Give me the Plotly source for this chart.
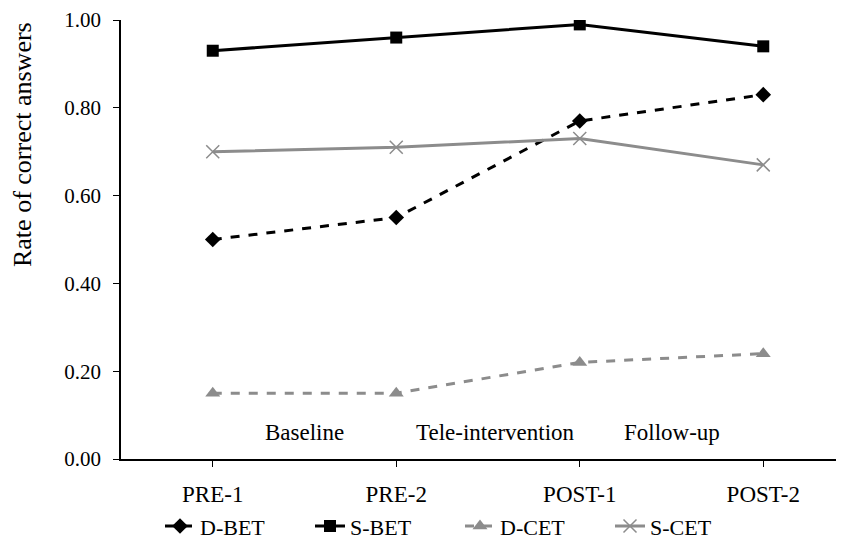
import plotly.graph_objects as go

categories = ["PRE-1", "PRE-2", "POST-1", "POST-2"]
d_bet = [0.50, 0.55, 0.77, 0.83]
s_bet = [0.93, 0.96, 0.99, 0.94]
d_cet = [0.15, 0.15, 0.22, 0.24]
s_cet = [0.70, 0.71, 0.73, 0.67]
phase_labels = ["Baseline", "Tele-intervention", "Follow-up"]
phase_x = [0.5, 1.54, 2.5]
phase_y = 0.06

FONT = "Liberation Serif, Times New Roman, serif"
GRAY = "#8c8c8c"
idx = list(range(len(categories)))

fig = go.Figure()
fig.add_trace(go.Scatter(x=idx, y=d_bet, name="D-BET", mode="lines+markers",
                         line=dict(color="black", width=3, dash="dash"),
                         marker=dict(symbol="diamond", size=12, color="black")))
fig.add_trace(go.Scatter(x=idx, y=s_bet, name="S-BET", mode="lines+markers",
                         line=dict(color="black", width=3),
                         marker=dict(symbol="square", size=12, color="black")))
fig.add_trace(go.Scatter(x=idx, y=d_cet, name="D-CET", mode="lines+markers",
                         line=dict(color=GRAY, width=3, dash="dash"),
                         marker=dict(symbol="triangle-up", size=13, color=GRAY)))
fig.add_trace(go.Scatter(x=idx, y=s_cet, name="S-CET", mode="lines+markers",
                         line=dict(color=GRAY, width=3),
                         marker=dict(symbol="x-thin", size=13, color=GRAY,
                                     line=dict(color=GRAY, width=1.5))))

for lab, xv in zip(phase_labels, phase_x):
    fig.add_annotation(x=xv, y=phase_y, text=lab, showarrow=False,
                       xref="x", yref="y", font=dict(family=FONT, size=23, color="black"))

fig.add_annotation(text="Rate of correct answers", textangle=-90, showarrow=False,
                   xref="paper", yref="paper", x=(22 - 121) / 723, y=0.7175,
                   xanchor="center", yanchor="middle",
                   font=dict(family=FONT, size=26, color="black"))

fig.update_layout(
    width=836, height=541,
    margin=dict(l=113, r=0, t=12, b=90),
    paper_bgcolor="white", plot_bgcolor="white",
    font=dict(family=FONT, size=21, color="black"),
    showlegend=True,
    legend=dict(orientation="h", x=(160 - 121) / 723, xanchor="left", y=-0.153, yanchor="middle",
                font=dict(family=FONT, size=22), tracegroupgap=0,
                entrywidth=105, entrywidthmode="pixels"),
    xaxis=dict(tickmode="array", tickvals=idx, ticktext=categories,
               range=[-0.5, 3.44], showgrid=False, zeroline=False,
               showline=True, linecolor="black", linewidth=1.5,
               ticks="outside", ticklen=6, tickcolor="black",
               ticklabelstandoff=8, automargin=False,
               tickfont=dict(family=FONT, size=23)),
    yaxis=dict(range=[0, 1], tickvals=[0, 0.2, 0.4, 0.6, 0.8, 1.0],
               tickformat=".2f", showgrid=False, zeroline=False,
               showline=True, linecolor="black", linewidth=1.5,
               ticks="outside", ticklen=6, tickcolor="black",
               automargin=False, ticklabelstandoff=8,
               tickfont=dict(family=FONT, size=21)),
)

fig.write_html("out.html")
